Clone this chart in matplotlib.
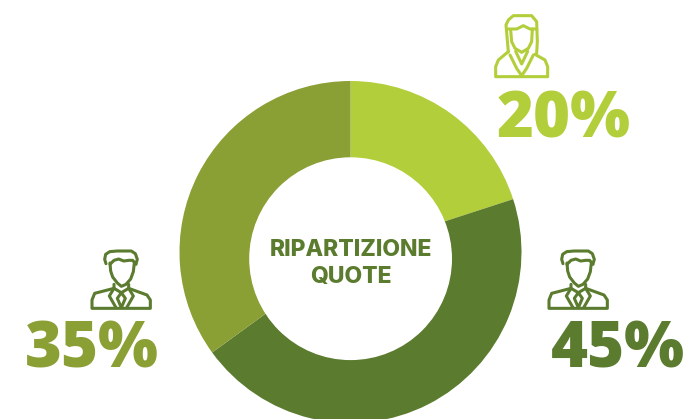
import matplotlib
matplotlib.use('Agg')
import matplotlib.pyplot as plt

labels = ['20%', '45%', '35%']
values = [20, 45, 35]
colors = ['#b2ce3b', '#5b7b2e', '#8a9f34']
center_lines = ['RIPARTIZIONE', 'QUOTE']

W, H = 687, 419

fig = plt.figure(figsize=(W / 100, H / 100), dpi=100)
ax = fig.add_axes([0, 0, 1, 1])

ax.pie(values, colors=colors, startangle=90, counterclock=False,
       center=(350.5, H - 252), radius=171,
       wedgeprops=dict(linewidth=0), frame=True)
ax.set_xlim(0, W)
ax.set_ylim(0, H)
ax.set_aspect('auto')
ax.axis('off')

# the hole sits a bit lower than the centre of the ring
ax.add_patch(plt.Circle((350.6, H - 258.7), 101.4, color='white', lw=0, zorder=3))


# icon shapes are in zoomed px (3x), ox/oy is the top left of the icon on the page
def stroke(pts, ox, oy, color, lw=2.2):
    xs = [ox + p[0] / 3 for p in pts]
    ys = [H - (oy + p[1] / 3) for p in pts]
    ax.plot(xs, ys, color=color, lw=lw, solid_joinstyle='round', solid_capstyle='round')


def man(ox, oy, color):
    # hair
    stroke([(42, 38), (38, 25), (41, 10), (53, 2), (75, 0), (118, 0), (130, 8), (136, 25), (132, 38)], ox, oy, color)
    stroke([(54, 40), (66, 28), (80, 24), (95, 30), (110, 28), (122, 28), (132, 40)], ox, oy, color)
    # face
    stroke([(54, 36), (56, 60), (62, 78), (76, 96), (88, 106), (102, 100), (116, 84), (124, 62), (127, 36)],
           ox, oy, color)
    # shoulders
    stroke([(66, 100), (66, 112), (8, 127), (0, 147), (0, 172), (175, 172), (175, 147), (165, 132),
            (110, 112), (110, 100)], ox, oy, color)
    # collar and tie
    stroke([(66, 112), (52, 135), (72, 170)], ox, oy, color)
    stroke([(110, 112), (124, 135), (104, 170)], ox, oy, color)
    stroke([(66, 112), (88, 125), (110, 112)], ox, oy, color)
    stroke([(88, 125), (76, 142), (88, 170), (100, 142), (88, 125)], ox, oy, color)


def woman(ox, oy, color):
    # hair outer
    stroke([(40, 113), (33, 33), (40, 18), (55, 5), (110, 5), (125, 23), (127, 83), (125, 118)], ox, oy, color)
    stroke([(40, 45), (65, 45), (85, 35), (105, 45), (125, 45)], ox, oy, color)
    # face
    stroke([(47, 48), (50, 83), (60, 103), (80, 115), (100, 103), (110, 83), (112, 45)], ox, oy, color)
    # shoulders
    stroke([(40, 113), (10, 138), (2, 158), (2, 188), (158, 188), (158, 158), (150, 138), (120, 121)],
           ox, oy, color)
    # collar
    stroke([(45, 123), (65, 163), (80, 185), (95, 163), (115, 123)], ox, oy, color)
    stroke([(62, 112), (80, 150), (98, 112)], ox, oy, color)


woman(495, 14, colors[0])
man(549, 251, colors[1])
man(92, 251, colors[1])

pct_font = dict(family='Open Sans', fontweight=800, fontsize=45.5)
ax.text(497, H - 138, labels[0], color=colors[0], ha='left', va='baseline', **pct_font)
ax.text(551, H - 367, labels[1], color=colors[1], ha='left', va='baseline', **pct_font)
ax.text(25, H - 367, labels[2], color=colors[2], ha='left', va='baseline', **pct_font)

center_font = dict(family='Inter', fontweight=800, fontsize=16.5, zorder=4)
ax.text(350.5, H - 256, center_lines[0], color=colors[1], ha='center', va='baseline', **center_font)
ax.text(350.5, H - 283, center_lines[1], color=colors[1], ha='center', va='baseline', **center_font)

fig.savefig('out.png', dpi=100)
